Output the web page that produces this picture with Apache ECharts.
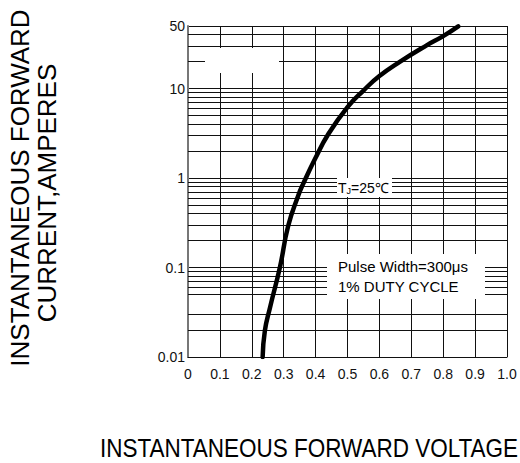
<!DOCTYPE html>
<html>
<head>
<meta charset="utf-8">
<script src="https://cdn.jsdelivr.net/npm/echarts@6/dist/echarts.min.js"></script>
<style>
html,body{margin:0;padding:0;background:#fff;}
#c{width:520px;height:463px;}
</style>
</head>
<body>
<div id="c"></div>
<script>
// Forward voltage (V) and instantaneous forward current (A)
var voltage = [0.234, 0.241, 0.257, 0.288, 0.314, 0.346, 0.361, 0.398, 0.440, 0.500, 0.550, 0.600, 0.665, 0.748, 0.800, 0.847];
var current = [0.01, 0.0197, 0.0356, 0.1, 0.291, 0.642, 0.86, 1.63, 3.1, 6.2, 9.5, 13.8, 20.0, 30.4, 38.5, 49.5];

// axis ranges / tick labels
var xMin = 0, xMax = 1.0, xStep = 0.1;
var yMin = 0.01, yMax = 50;
// minor horizontal grid values drawn in the original (0.04 line absent in source)
var hMinor = [0.02, 0.03, 0.05, 0.06, 0.07, 0.08, 0.09,
              0.2, 0.3, 0.4, 0.5, 0.6, 0.7, 0.8, 0.9,
              2, 3, 4, 5, 6, 7, 8, 9,
              20, 30, 40];

var yTitle1 = 'INSTANTANEOUS FORWARD';
var yTitle2 = 'CURRENT,AMPERES';
var xTitle = 'INSTANTANEOUS FORWARD VOLTAGE';
var note1 = 'Pulse Width=300\u03bcs';
var note2 = '1% DUTY CYCLE';

var FONT = '"Liberation Sans", Arial, Helvetica, sans-serif';

var chart = echarts.init(document.getElementById('c'), null, {renderer: 'svg'});

var pts = voltage.map(function (v, i) { return [v, current[i]]; });

var option = {
  animation: false,
  backgroundColor: '#fff',
  textStyle: {fontFamily: FONT},
  grid: {left: 188, right: 13, top: 26, bottom: 106, show: false},
  xAxis: {
    type: 'value', min: xMin, max: xMax, interval: xStep,
    axisLine: {show: true, lineStyle: {color: '#111', width: 1}},
    axisTick: {show: false},
    splitLine: {show: true, lineStyle: {color: '#111', width: 1}},
    axisLabel: {
      color: '#111', fontSize: 14, fontFamily: FONT, margin: 10,
      formatter: function (v) { return v === 0 ? '0' : v.toFixed(1); }
    }
  },
  yAxis: {
    type: 'log', logBase: 10, min: yMin, max: yMax,
    axisLine: {show: true, lineStyle: {color: '#777', width: 2}},
    axisTick: {show: false},
    splitLine: {show: true, lineStyle: {color: '#111', width: 1}},
    axisLabel: {
      color: '#111', fontSize: 14, fontFamily: FONT, margin: 3,
      showMaxLabel: true, showMinLabel: true,
      formatter: function (v) { return String(parseFloat(Number(v).toPrecision(6))); }
    }
  },
  series: [
    {
      type: 'line', data: [], z: 1, silent: true,
      markLine: {
        silent: true, symbol: ['none', 'none'], animation: false,
        label: {show: false},
        lineStyle: {color: '#111', width: 1, type: 'solid'},
        data: hMinor.map(function (v) { return {yAxis: v}; })
      }
    },
    {
      type: 'line', data: pts, z: 5, smooth: 0.5, showSymbol: false, symbol: 'none',
      lineStyle: {color: '#000', width: 4.5, cap: 'round', join: 'round'}
    }
  ],
  graphic: [
    {type: 'rect', z: 50, shape: {x: 205, y: 48, width: 74, height: 25}, style: {fill: '#fff'}},
    {type: 'rect', z: 50, shape: {x: 337, y: 178, width: 55, height: 19}, style: {fill: '#fff'}},
    {type: 'rect', z: 50, shape: {x: 327, y: 254, width: 158, height: 45}, style: {fill: '#fff'}},
    {type: 'text', z: 60, x: 338, y: 188,
      style: {text: '{t|T}{s|J}{t|=25\u2103}', fill: '#000', verticalAlign: 'middle', align: 'left',
        rich: {t: {fontSize: 14, fontFamily: FONT, fill: '#000'},
               s: {fontSize: 9, fontFamily: FONT, fill: '#000', padding: [6, 0, 0, 0]}}}},
    {type: 'text', z: 60, x: 338, y: 266,
      style: {text: note1, fill: '#000', font: '15px ' + FONT, verticalAlign: 'middle', align: 'left'}},
    {type: 'text', z: 60, x: 338, y: 286,
      style: {text: note2, fill: '#000', font: '15px ' + FONT, verticalAlign: 'middle', align: 'left'}},
    {type: 'text', z: 60, x: 19.5, y: 188, rotation: Math.PI / 2,
      style: {text: yTitle1, fill: '#000', font: '26px ' + FONT, align: 'center', verticalAlign: 'middle'}},
    {type: 'text', z: 60, x: 47, y: 193, rotation: Math.PI / 2,
      style: {text: yTitle2, fill: '#000', font: '26px ' + FONT, align: 'center', verticalAlign: 'middle'}},
    {type: 'text', z: 60, x: 100, y: 448, scaleX: 0.9, originX: 0, originY: 0,
      style: {text: xTitle, fill: '#000', font: '25px ' + FONT, align: 'left', verticalAlign: 'middle'}}
  ]
};
chart.setOption(option);
</script>
</body>
</html>
